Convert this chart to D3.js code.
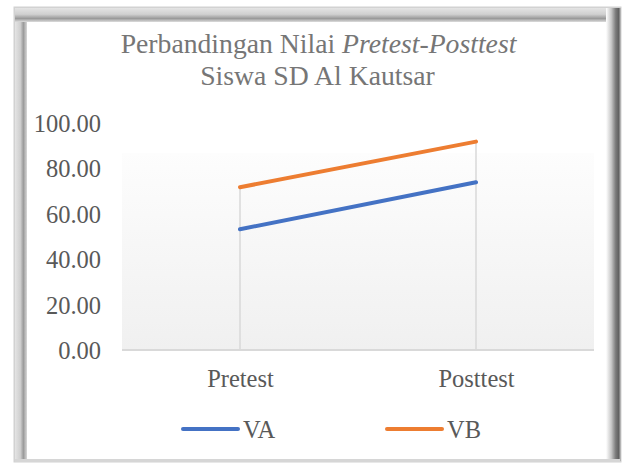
<!DOCTYPE html>
<html>
<head>
<meta charset="utf-8">
<script src="https://cdn.jsdelivr.net/npm/d3@7"></script>
<style>
  html, body { margin: 0; padding: 0; background: #fff; }
  svg { display: block; }
</style>
</head>
<body>
<script>
const categories = ["Pretest", "Posttest"];
const seriesNames = ["VA", "VB"];
const seriesVA = [53.2, 73.9];
const seriesVB = [71.7, 91.8];
const yTicks = [0, 20, 40, 60, 80, 100];
const titleLine1 = "Perbandingan Nilai ";
const titleItalic = "Pretest-Posttest";
const titleLine2 = "Siswa SD Al Kautsar";

const W = 624, H = 464;
const FONT = "Liberation Serif";
const BASE = 20;               // rendered size, scaled up by transform
const kAxis = 24.5 / BASE, kTitle = 27.7 / BASE;
const colors = { VA: "#4472C4", VB: "#ED7D31" };
const series = [
  { name: seriesNames[0], values: seriesVA },
  { name: seriesNames[1], values: seriesVB }
];

const svg = d3.select("body").append("svg").attr("width", W).attr("height", H)
  .attr("font-family", FONT);
const defs = svg.append("defs");

function grad(id, horiz, stops) {
  const g = defs.append("linearGradient").attr("id", id)
    .attr("x1", 0).attr("y1", 0).attr("x2", horiz ? 1 : 0).attr("y2", horiz ? 0 : 1);
  stops.forEach(s => g.append("stop").attr("offset", s[0]).attr("stop-color", s[1]));
}
grad("gLeft", true, [[0, "#e4e4e4"], [0.45, "#cfcfcf"], [0.7, "#9a9a9a"], [1, "#d8d8d8"]]);
grad("gTop", false, [[0, "#e4e4e4"], [0.45, "#d0d0d0"], [0.75, "#9a9a9a"], [1, "#dcdcdc"]]);
grad("gRight", true, [[0, "#ffffff"], [0.35, "#c8c8c8"], [0.65, "#7a7a7a"], [0.85, "#606060"], [1, "#cccccc"]]);
grad("gPlot", false, [[0, "#fdfdfd"], [1, "#f0f0f0"]]);

// frame
const frame = svg.append("g");
frame.append("rect").attr("x", 14.5).attr("y", 7.5).attr("width", 606).attr("height", 454)
  .attr("fill", "#fff").attr("stroke", "#d2d2d2").attr("stroke-width", 2);
frame.append("rect").attr("x", 15).attr("y", 8).attr("width", 12).attr("height", 452).attr("fill", "url(#gLeft)");
frame.append("rect").attr("x", 15).attr("y", 8).attr("width", 597).attr("height", 14).attr("fill", "url(#gTop)");
frame.append("rect").attr("x", 606).attr("y", 8).attr("width", 15).attr("height", 453).attr("fill", "url(#gRight)");
frame.append("rect").attr("x", 15).attr("y", 459).attr("width", 605).attr("height", 3).attr("fill", "#d6d6d6");

// scales
const plotL = 122, plotR = 594, plotBottom = 350, yTop = 123, plotAreaTop = 153;
const x = d3.scalePoint().domain(categories).range([plotL, plotR]).padding(0.5);
const y = d3.scaleLinear().domain([0, 100]).range([plotBottom, yTop]);

// plot area
svg.append("rect").attr("x", plotL).attr("y", plotAreaTop)
  .attr("width", plotR - plotL).attr("height", plotBottom - plotAreaTop)
  .attr("fill", "url(#gPlot)");

// drop lines
categories.forEach((c, i) => {
  const mx = d3.max(series, s => s.values[i]);
  svg.append("line").attr("x1", x(c)).attr("x2", x(c))
    .attr("y1", y(mx)).attr("y2", y(0))
    .attr("stroke", "#d9d9d9").attr("stroke-width", 1.5);
});

// x axis line
svg.append("line").attr("x1", plotL).attr("x2", plotR).attr("y1", y(0)).attr("y2", y(0))
  .attr("stroke", "#d9d9d9").attr("stroke-width", 2);

// y axis labels
const yAxis = svg.append("g").attr("transform", `translate(${101},0)`)
  .call(d3.axisLeft(y).tickValues(yTicks).tickFormat(d3.format(".2f")).tickSize(0).tickPadding(0));
yAxis.attr("font-family", FONT).attr("font-size", BASE);
yAxis.select(".domain").remove();
yAxis.selectAll("text").attr("x", 0).attr("y", 0).attr("dy", "0.35em")
  .attr("fill", "#595959").attr("transform", `scale(${kAxis})`);

// x axis labels
const xAxis = svg.append("g").attr("transform", `translate(0,${plotBottom})`)
  .call(d3.axisBottom(x).tickSize(0).tickPadding(0));
xAxis.attr("font-family", FONT).attr("font-size", BASE);
xAxis.select(".domain").remove();
xAxis.selectAll("text").attr("x", 0).attr("y", 0).attr("dy", null)
  .attr("fill", "#595959").attr("transform", `translate(0,37) scale(${kAxis})`);

// lines
const line = d3.line().x((d, i) => x(categories[i])).y(d => y(d));
series.forEach(s => {
  svg.append("path").datum(s.values).attr("d", line)
    .attr("fill", "none").attr("stroke", colors[s.name]).attr("stroke-width", 4)
    .attr("stroke-linecap", "round").attr("stroke-linejoin", "round");
});

// title
const t1 = svg.append("text").attr("text-anchor", "middle").attr("font-family", FONT)
  .attr("font-size", BASE).attr("fill", "#767676")
  .attr("transform", `translate(318.5,53) scale(${kTitle})`);
t1.append("tspan").text(titleLine1);
t1.append("tspan").attr("font-style", "italic").text(titleItalic);
svg.append("text").attr("text-anchor", "middle").attr("font-family", FONT)
  .attr("font-size", BASE).attr("fill", "#767676")
  .attr("transform", `translate(317.5,85) scale(${kTitle})`).text(titleLine2);

// legend
const legendX = [183, 387];
series.forEach((s, i) => {
  const g = svg.append("g").attr("transform", `translate(${legendX[i]},429)`);
  g.append("line").attr("x1", 0).attr("x2", 55).attr("y1", 0).attr("y2", 0)
    .attr("stroke", colors[s.name]).attr("stroke-width", 4).attr("stroke-linecap", "round");
  g.append("text").attr("font-family", FONT).attr("font-size", BASE).attr("fill", "#595959")
    .attr("transform", `translate(60,8.5) scale(${kAxis})`).text(s.name);
});
</script>
</body>
</html>
